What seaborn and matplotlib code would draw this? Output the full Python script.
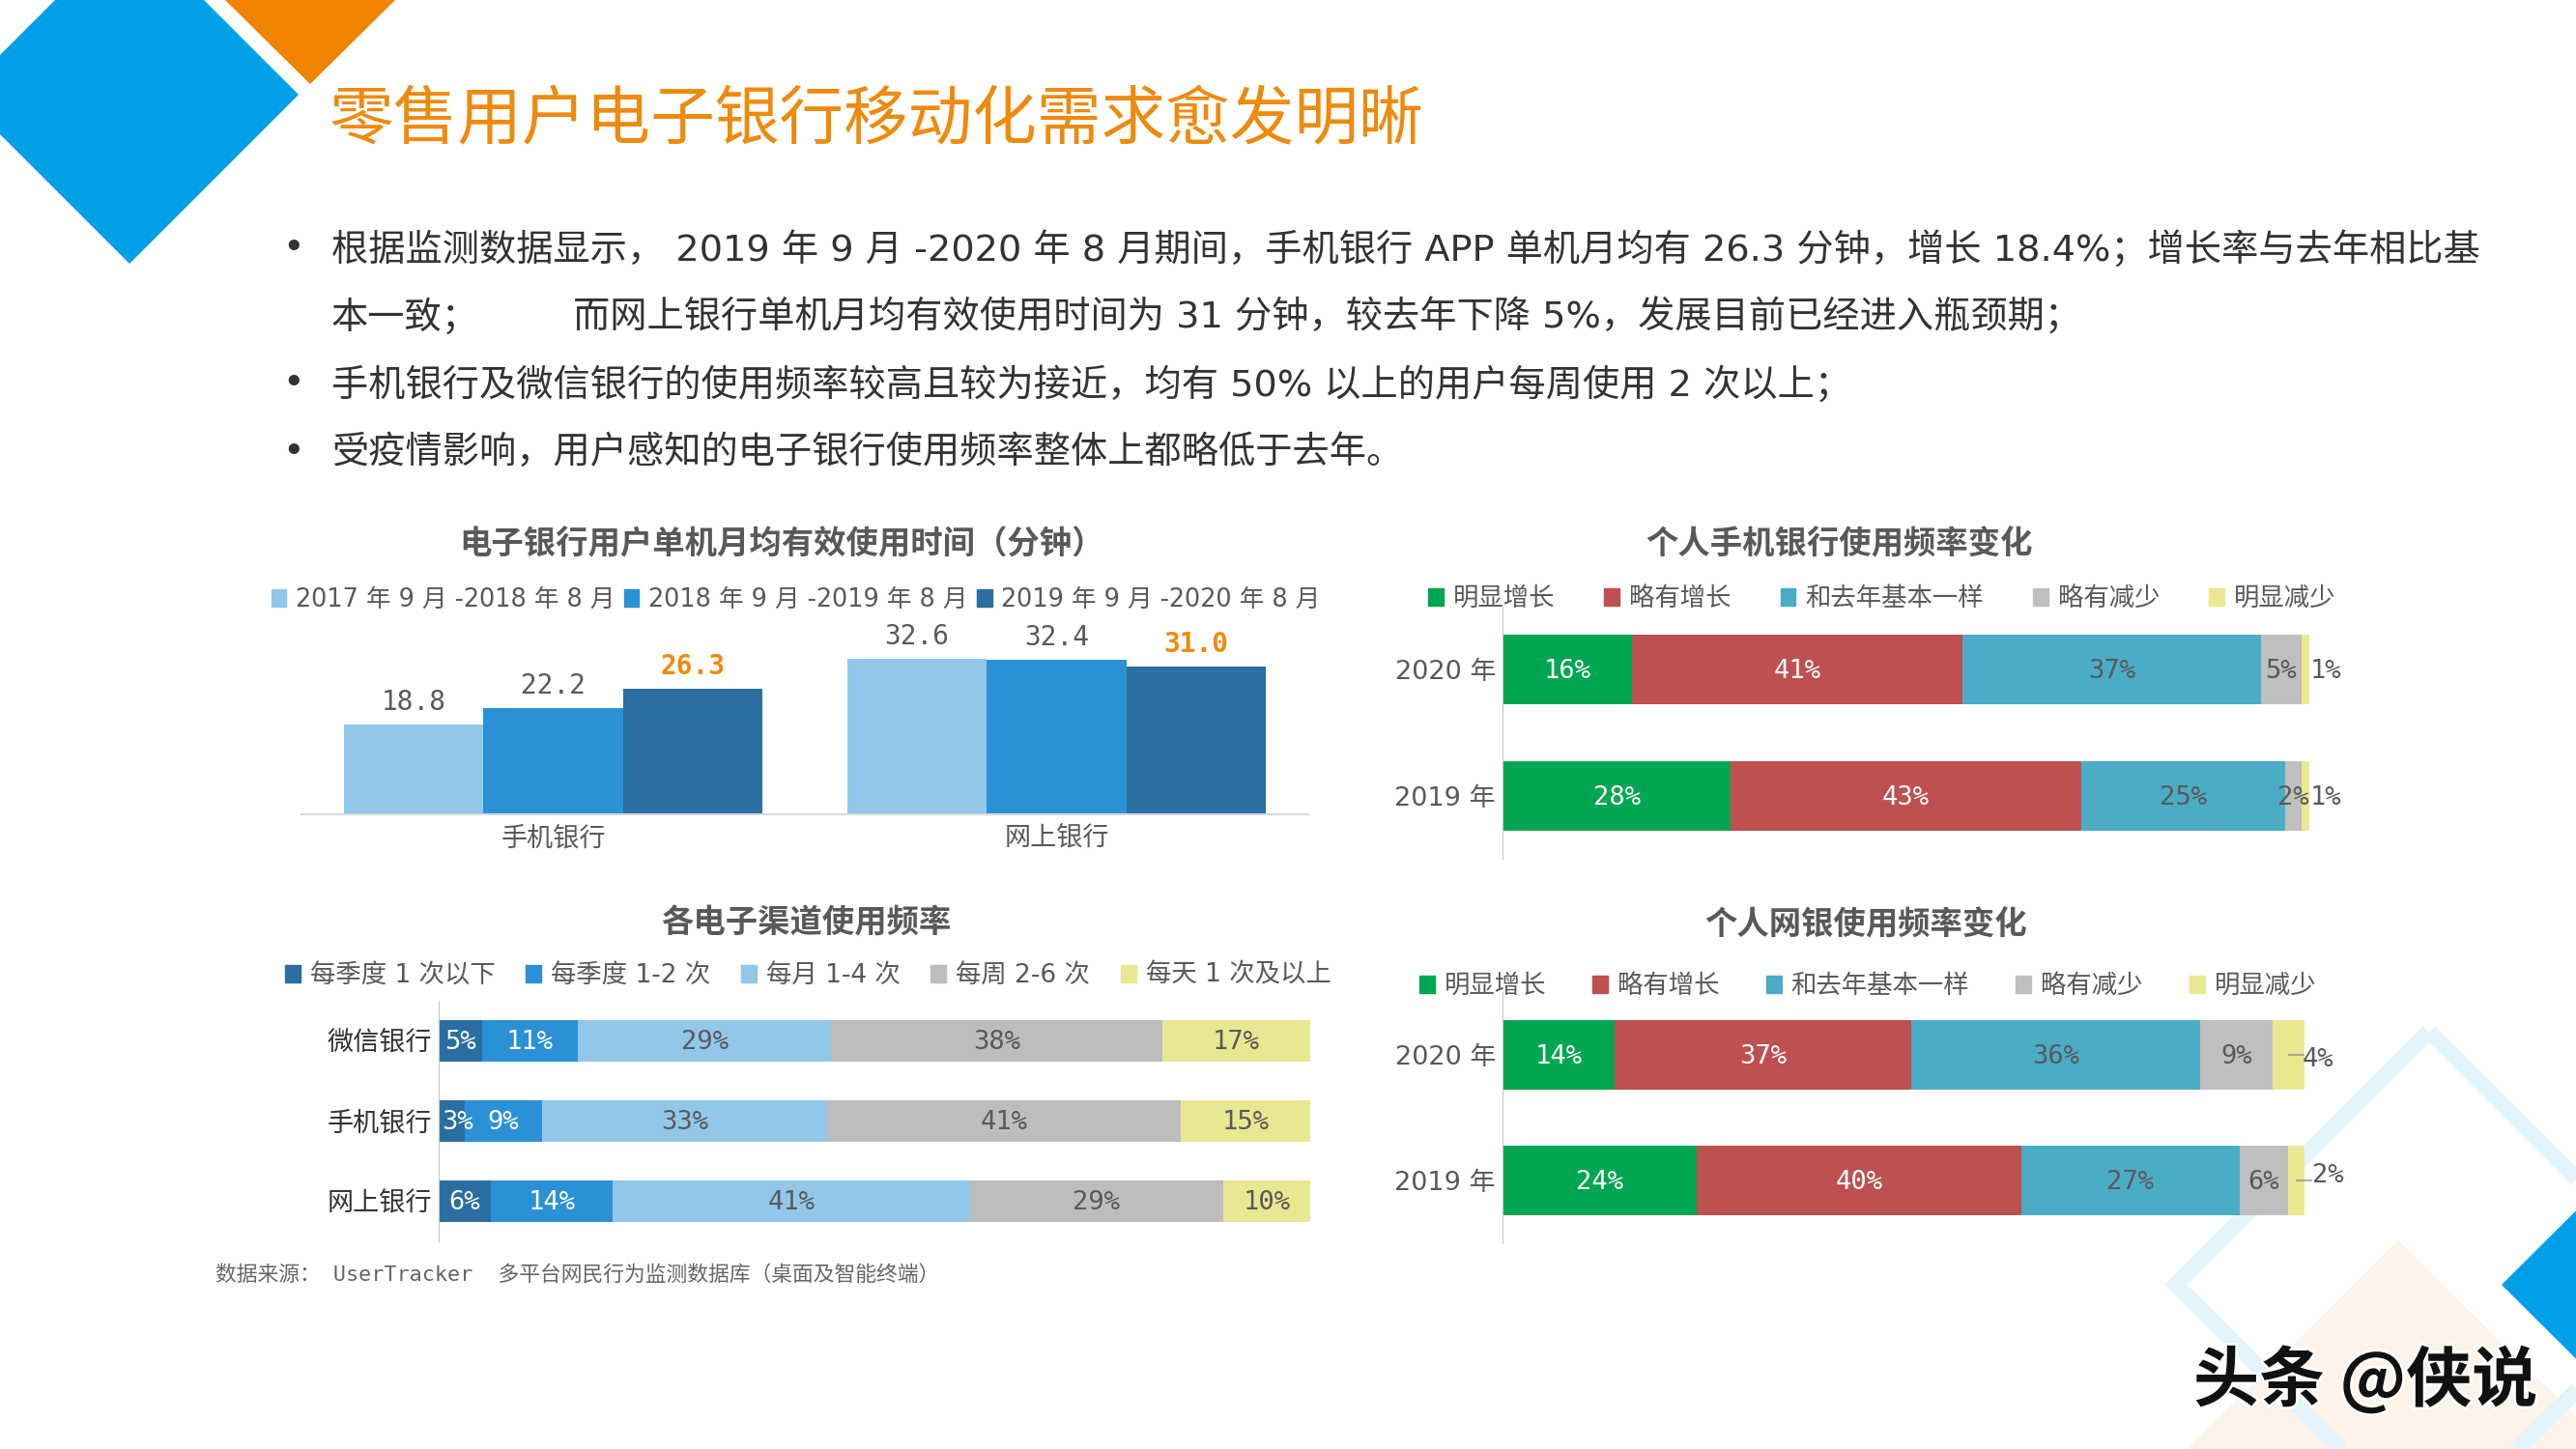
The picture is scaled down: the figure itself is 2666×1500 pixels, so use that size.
import numpy as np

import matplotlib.patches as mpatches
import matplotlib.patheffects as path_effects
import matplotlib.pyplot as plt
import pandas as pd
import seaborn as sns

WIDTH, HEIGHT = 2666, 1500
FONTS = ['DejaVu Sans', 'Noto Sans CJK SC']
MONO_FONTS = ['DejaVu Sans Mono', 'Noto Sans CJK SC']
GREY = '#595959'
ORANGE = '#EE8A0C'


def px_rect(left, top, right, bottom):
    # Axes rectangle given in pixels of the slide
    return [left / WIDTH, 1 - bottom / HEIGHT, (right - left) / WIDTH, (bottom - top) / HEIGHT]


def slide_text(fig, x, y, text, **kwargs):
    fig.text(x / WIDTH, 1 - y / HEIGHT, text, va='center', **kwargs)


def slide_legend(fig, x, y, labels, colors, spacing, size=19):
    handles = [mpatches.Patch(color=color, label=label) for color, label in zip(colors, labels)]
    fig.legend(handles=handles, loc='center left', bbox_to_anchor=(x / WIDTH, 1 - y / HEIGHT), ncol=len(labels),
               frameon=False, fontsize=size, labelcolor=GREY, borderpad=0, borderaxespad=0, handlelength=0.6,
               handleheight=0.65, handletextpad=0.38, columnspacing=spacing)


class StackedChart(object):

    def __init__(self, rows, columns, values, colors, white_columns, label_color=GREY):
        self.rows = rows
        self.columns = columns
        # The source is a 100% chart, so each row is brought back to a total of 100
        self.values = np.array(values, dtype=float)
        self.shares = 100 * self.values / self.values.sum(axis=1, keepdims=True)
        self.colors = colors
        self.white_columns = white_columns
        self.label_color = label_color

    def visualize(self, ax, bar_width, shifts=None, leaders=False):
        shifts = shifts if shifts is not None else {}
        ends = self.shares.cumsum(axis=1)
        # Longest total first, every shorter total is painted on top of it
        for j in reversed(range(len(self.columns))):
            sns.barplot(x=ends[:, j], y=self.rows, color=self.colors[j], saturation=1, width=bar_width, linewidth=0,
                        ax=ax)
        ax.set_xlim(0, 100)
        ax.set_ylim(len(self.rows) - 0.5, -0.5)
        ax.set_xticks([])
        ax.patch.set_alpha(0)
        sns.despine(ax=ax, bottom=True)
        ax.spines['left'].set_color('#C8C8C8')
        ax.tick_params(axis='y', length=0, pad=5, labelsize=19.5, labelcolor=self.label_color)
        # Display the percentages
        for i in range(len(self.rows)):
            for j in range(len(self.columns)):
                center = ends[i, j] - self.shares[i, j] / 2
                dx, dy = shifts.get((i, j), (0, 0))
                color = 'white' if j in self.white_columns else GREY
                ax.text(center + dx, i + dy + 0.015, '%d%%' % self.values[i, j], color=color, fontsize=19.5,
                        ha='center', va='center', family=MONO_FONTS)
                if leaders and (i, j) in shifts:
                    ax.annotate('', xy=(center, i), xytext=(center + 1.9, i),
                                arrowprops=dict(arrowstyle='-', color='#8C8C8C', lw=1, shrinkA=0, shrinkB=0))


def background(fig):
    ax = fig.add_axes([0, 0, 1, 1], zorder=-1)
    ax.set_xlim(0, WIDTH)
    ax.set_ylim(HEIGHT, 0)
    ax.axis('off')
    ax.add_patch(plt.Polygon([(134, -77), (309, 98), (134, 273), (-41, 98)], color='#00A0E9', lw=0))
    ax.add_patch(plt.Polygon([(321, -88), (409, 0), (321, 87), (233, 0)], color='#F08300', lw=0))
    ax.add_patch(plt.Polygon([(2482, 1284), (2700, 1500), (2482, 1720), (2264, 1500)], color='#FDF3E8', lw=0))
    ax.add_patch(plt.Polygon([(2514, 1068), (2776, 1330), (2514, 1592), (2252, 1330)], closed=True, fill=False,
                             edgecolor='#E3F4FC', lw=11.7, joinstyle='miter'))
    ax.add_patch(plt.Polygon([(2589, 1330), (2770, 1150), (2950, 1330), (2770, 1510)], color='#00A0E9', lw=0))


def minutes_graph(ax, fig):
    periods = ['2017 年 9 月 -2018 年 8 月', '2018 年 9 月 -2019 年 8 月', '2019 年 9 月 -2020 年 8 月']
    colors = ['#92C7EA', '#2B91D6', '#2A6EA2']
    minutes = pd.DataFrame({'bank': ['手机银行'] * 3 + ['网上银行'] * 3,
                            'period': periods * 2,
                            'minutes': [18.8, 22.2, 26.3, 32.6, 32.4, 31.0]})
    sns.barplot(data=minutes, x='bank', y='minutes', hue='period', palette=colors, saturation=1, width=0.833, gap=0,
                linewidth=0, legend=False, ax=ax)
    ax.set_xlim(-0.5, 1.5)
    ax.set_ylim(0, 36)
    ax.set_xlabel('')
    ax.set_ylabel('')
    ax.set_yticks([])
    ax.patch.set_alpha(0)
    sns.despine(ax=ax, left=True)
    ax.spines['bottom'].set_color('#D9D9D9')
    ax.spines['bottom'].set_linewidth(1.5)
    ax.tick_params(axis='x', length=0, pad=9, labelsize=19.5, labelcolor=GREY)
    for k, container in enumerate(ax.containers):
        texts = ax.bar_label(container, fmt='%.1f', padding=6.5, fontsize=20, color=GREY, family=MONO_FONTS)
        if k == 2:
            for text in texts:
                text.set_color(ORANGE)
                text.set_fontweight('bold')
    slide_legend(fig, 281, 621, periods, colors, 0.38, size=18.4)


sns.set_style('white')
plt.rcParams['font.family'] = FONTS

fig = plt.figure(figsize=(26.66, 15), dpi=100)
background(fig)

# Heading and bullet points
slide_text(fig, 341, 125, '零售用户电子银行移动化需求愈发明晰', fontsize=48, color=ORANGE)
lines = [(343, 258, '根据监测数据显示， 2019 年 9 月 -2020 年 8 月期间，手机银行 APP 单机月均有 26.3 分钟，增长 18.4%；增长率与去年相比基'),
         (343, 328, '本一致；'),
         (593, 328, '而网上银行单机月均有效使用时间为 31 分钟，较去年下降 5%，发展目前已经进入瓶颈期；'),
         (343, 398, '手机银行及微信银行的使用频率较高且较为接近，均有 50% 以上的用户每周使用 2 次以上；'),
         (343, 469, '受疫情影响，用户感知的电子银行使用频率整体上都略低于去年。')]
for x, y, line in lines:
    slide_text(fig, x, y, line, fontsize=27.5, color='#333333')
for y in [258, 398, 469]:
    slide_text(fig, 292, y, '•', fontsize=27.5, color='#333333')

# Chart titles
for x, y, title in [(809, 564, '电子银行用户单机月均有效使用时间（分钟）'), (834, 956, '各电子渠道使用频率'),
                    (1904, 564, '个人手机银行使用频率变化'), (1931, 958, '个人网银使用频率变化')]:
    slide_text(fig, x, y, title, fontsize=24, color=GREY, ha='center', fontweight='bold')

minutes_graph(fig.add_axes(px_rect(312, 665, 1354, 843)), fig)

# Frequency of use per channel
frequency_columns = ['每季度 1 次以下', '每季度 1-2 次', '每月 1-4 次', '每周 2-6 次', '每天 1 次及以上']
frequency_colors = ['#2A6EA2', '#2B91D6', '#92C7EA', '#BDBDBD', '#EAE793']
frequency = StackedChart(['微信银行', '手机银行', '网上银行'], frequency_columns,
                         [[5, 11, 29, 38, 17], [3, 9, 33, 41, 15], [6, 14, 41, 29, 10]],
                         frequency_colors, [0, 1], label_color='#333333')
frequency.visualize(fig.add_axes(px_rect(454, 1036, 1356, 1285)), 0.51, shifts={(1, 0): (0.7, 0)})
slide_legend(fig, 295, 1010, frequency_columns, frequency_colors, 1.2)

# Change of the frequency, mobile then web
change_columns = ['明显增长', '略有增长', '和去年基本一样', '略有减少', '明显减少']
change_colors = ['#00A651', '#BE5050', '#4BACC6', '#BFBFBF', '#EBE892']
mobile = StackedChart(['2020 年', '2019 年'], change_columns, [[16, 41, 37, 5, 1], [28, 43, 25, 2, 1]],
                      change_colors, [0, 1])
mobile.visualize(fig.add_axes(px_rect(1555, 628, 2390, 889)), 0.553, shifts={(0, 4): (2.6, 0), (1, 4): (2.6, 0)})
slide_legend(fig, 1478, 620, change_columns, change_colors, 1.93)

web = StackedChart(['2020 年', '2019 年'], change_columns, [[14, 37, 36, 9, 4], [24, 40, 27, 6, 2]],
                   change_colors, [0, 1])
web.visualize(fig.add_axes(px_rect(1555, 1027, 2385, 1287)), 0.553, shifts={(0, 4): (3.7, 0.02), (1, 4): (3.9, -0.05)},
              leaders=True)
slide_legend(fig, 1469, 1021, change_columns, change_colors, 1.82)

slide_text(fig, 223, 1319, '数据来源： UserTracker  多平台网民行为监测数据库（桌面及智能终端）', fontsize=15.7, color='#666666',
           family=MONO_FONTS)

mark = fig.text(2270 / WIDTH, 1 - 1430 / HEIGHT, '头条 @侠说', fontsize=49, color='#111111', va='center',
                fontweight='bold', family=['Noto Sans CJK SC', 'DejaVu Sans'])
mark.set_path_effects([path_effects.withStroke(linewidth=4, foreground='white')])

fig.savefig('out.png', dpi=100)
